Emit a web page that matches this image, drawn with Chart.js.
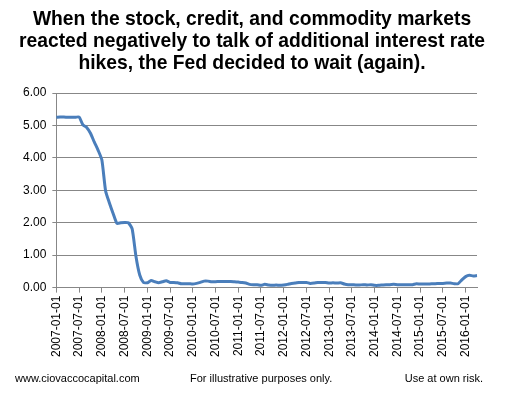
<!DOCTYPE html>
<html>
<head>
<meta charset="utf-8">
<script src="https://cdn.jsdelivr.net/npm/chart.js@4.4.1/dist/chart.umd.min.js"></script>
<style>
  html, body { margin: 0; padding: 0; background: #fff; }
  #wrap { width: 506px; height: 398px; }
</style>
</head>
<body>
<div id="wrap"><canvas id="myChart" width="506" height="398"></canvas></div>
<script>
const startYear = 2007
const monthCount = 112

// effective fed funds rate, monthly
const rates = [
	5.25, 5.26, 5.26, 5.25, 5.25, 5.25, 5.26, 5.02, 4.94, 4.76, 4.49, 4.24,
	3.94, 2.98, 2.61, 2.28, 1.98, 2.00, 2.01, 2.00, 1.81, 0.97, 0.39, 0.16,
	0.15, 0.22, 0.18, 0.15, 0.18, 0.21, 0.16, 0.16, 0.15, 0.12, 0.12, 0.12,
	0.11, 0.13, 0.16, 0.20, 0.20, 0.18, 0.18, 0.19, 0.19, 0.19, 0.19, 0.18,
	0.17, 0.16, 0.14, 0.10, 0.09, 0.09, 0.07, 0.10, 0.08, 0.07, 0.08, 0.07,
	0.08, 0.10, 0.13, 0.14, 0.16, 0.16, 0.16, 0.13, 0.14, 0.16, 0.16, 0.16,
	0.14, 0.15, 0.14, 0.15, 0.11, 0.09, 0.09, 0.08, 0.08, 0.09, 0.08, 0.09,
	0.07, 0.07, 0.08, 0.09, 0.09, 0.10, 0.09, 0.09, 0.09, 0.09, 0.09, 0.12,
	0.11, 0.11, 0.11, 0.12, 0.12, 0.13, 0.13, 0.14, 0.14, 0.12, 0.12, 0.24,
	0.34, 0.38, 0.36, 0.37,
]

const titleLines = [
	'When the stock, credit, and commodity markets',
	'reacted negatively to talk of additional interest rate',
	'hikes, the Fed decided to wait (again).',
]

const labels = []
for (let i = 0; i < monthCount; i++) {
	const y = startYear + Math.floor(i / 12)
	const m = (i % 12) + 1
	labels.push(y + '-' + (m < 10 ? '0' + m : m) + '-01')
}

const FONT = "'Liberation Sans', Arial, sans-serif"

// title + footer drawn straight on the canvas so they sit where the original has them
const pageText = {
	id: 'pageText',
	afterDraw(chart) {
		const c = chart.ctx
		c.save()
		c.fillStyle = '#000'
		c.textBaseline = 'middle'
		c.textAlign = 'center'
		c.font = 'bold 19.3px ' + FONT
		titleLines.forEach((t, i) => c.fillText(t, 252, 20 + i * 21.7))

		c.font = '11px ' + FONT
		c.textAlign = 'left'
		c.fillText('www.ciovaccocapital.com', 15, 379)
		c.fillText('For illustrative purposes only.', 190, 379)
		c.textAlign = 'right'
		c.fillText('Use at own risk.', 483, 379)
		c.restore()
	},
}

const ctx = document.getElementById('myChart')

const myChart = new Chart(ctx, {
	type: 'line',
	data: {
		labels: labels,
		datasets: [
			{
				data: rates,
				borderColor: '#4A7EBB',
				borderWidth: 3,
				pointRadius: 0,
				tension: 0.2,
				fill: false,
			},
		],
	},
	options: {
		responsive: false,
		animation: false,
		layout: {
			padding: { left: 17, right: 29, top: 93, bottom: 38 },
		},
		plugins: {
			legend: { display: false },
			tooltip: { enabled: false },
			title: { display: false },
		},
		scales: {
			x: {
				offset: false,
				grid: {
					display: true,
					drawOnChartArea: false,
					drawTicks: true,
					tickLength: 5,
					color: '#878787',
				},
				border: { color: '#878787', width: 1 },
				ticks: {
					autoSkip: false,
					maxRotation: 90,
					minRotation: 90,
					color: '#000',
					padding: 3,
					font: { family: FONT, size: 12 },
					callback: function (val, i) {
						return i % 6 === 0 ? labels[i] : null
					},
				},
			},
			y: {
				min: 0,
				max: 6,
				grid: {
					color: '#878787',
					tickLength: 4,
				},
				border: { color: '#878787', width: 1 },
				ticks: {
					stepSize: 1,
					color: '#000',
					padding: 6,
					font: { family: FONT, size: 12 },
					callback: function (v) {
						return v.toFixed(2)
					},
				},
			},
		},
	},
	plugins: [pageText],
})
</script>
</body>
</html>
